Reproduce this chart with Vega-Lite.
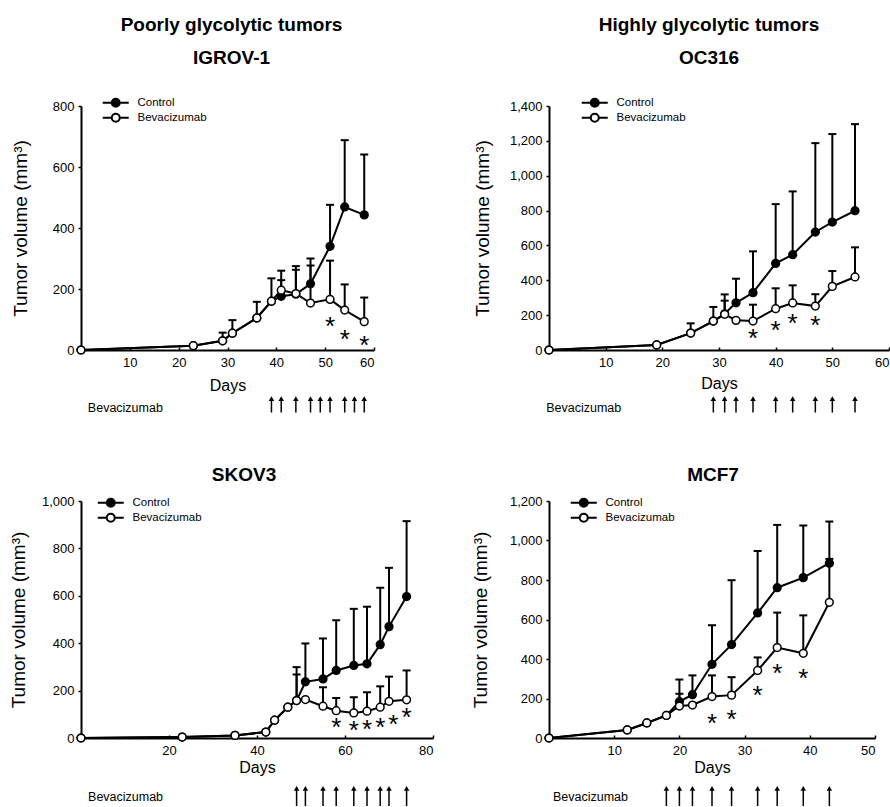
{
  "$schema": "https://vega.github.io/schema/vega-lite/v6.json",
  "padding": {"left": 9, "top": 16, "right": 0, "bottom": 0},
  "config": {
    "font": "Liberation Sans",
    "view": {"stroke": null},
    "axis": {"grid": false, "domainColor": "black", "domainWidth": 2, "tickColor": "black", "tickWidth": 1.5, "tickSize": 3, "labelColor": "black", "labelFontSize": 13, "labelFont": "Liberation Sans", "titleFont": "Liberation Sans", "titleColor": "black", "titleFontWeight": "normal", "titleFontSize": 16},
    "axisY": {"labelPadding": 4},
    "axisX": {"labelPadding": 9, "tickSize": -3},
    "title": {"font": "Liberation Sans", "fontSize": 19, "fontWeight": "bold", "color": "black", "subtitleFont": "Liberation Sans", "subtitleFontSize": 19, "subtitleFontWeight": "bold", "subtitleColor": "black", "anchor": "middle", "subtitlePadding": 14, "offset": 29},
    "legend": {"title": null, "labelFont": "Liberation Sans", "labelFontSize": 11.5, "labelColor": "black", "labelOffset": 16, "padding": 0, "rowPadding": -2, "symbolType": "M-3.25,0L-1,0M1,0L3.25,0M-1,0A1,1,0,1,0,1,0A1,1,0,1,0,-1,0", "symbolSize": 64, "symbolStrokeColor": "black", "symbolStrokeWidth": 2, "symbolOpacity": 1}
  },
  "datasets": {
    "tumor": [
      {"panel": "IGROV-1", "group": "Control", "day": 0, "volume": 0},
      {"panel": "IGROV-1", "group": "Control", "day": 23, "volume": 14},
      {"panel": "IGROV-1", "group": "Control", "day": 29, "volume": 30, "upper": 57},
      {"panel": "IGROV-1", "group": "Control", "day": 31, "volume": 55, "upper": 98},
      {"panel": "IGROV-1", "group": "Control", "day": 36, "volume": 105, "upper": 158},
      {"panel": "IGROV-1", "group": "Control", "day": 39, "volume": 160, "upper": 235},
      {"panel": "IGROV-1", "group": "Control", "day": 41, "volume": 176, "upper": 229},
      {"panel": "IGROV-1", "group": "Control", "day": 44, "volume": 183, "upper": 275},
      {"panel": "IGROV-1", "group": "Control", "day": 47, "volume": 217, "upper": 300},
      {"panel": "IGROV-1", "group": "Control", "day": 51, "volume": 340, "upper": 476},
      {"panel": "IGROV-1", "group": "Control", "day": 54, "volume": 469, "upper": 688},
      {"panel": "IGROV-1", "group": "Control", "day": 58, "volume": 443, "upper": 641},
      {"panel": "OC316", "group": "Control", "day": 0, "volume": 0},
      {"panel": "OC316", "group": "Control", "day": 19, "volume": 29},
      {"panel": "OC316", "group": "Control", "day": 25, "volume": 97, "upper": 153},
      {"panel": "OC316", "group": "Control", "day": 29, "volume": 166, "upper": 247},
      {"panel": "OC316", "group": "Control", "day": 31, "volume": 208, "upper": 319},
      {"panel": "OC316", "group": "Control", "day": 33, "volume": 271, "upper": 409},
      {"panel": "OC316", "group": "Control", "day": 36, "volume": 329, "upper": 566},
      {"panel": "OC316", "group": "Control", "day": 40, "volume": 497, "upper": 837},
      {"panel": "OC316", "group": "Control", "day": 43, "volume": 547, "upper": 910},
      {"panel": "OC316", "group": "Control", "day": 47, "volume": 677, "upper": 1187},
      {"panel": "OC316", "group": "Control", "day": 50, "volume": 734, "upper": 1239},
      {"panel": "OC316", "group": "Control", "day": 54, "volume": 799, "upper": 1296},
      {"panel": "SKOV3", "group": "Control", "day": 0, "volume": 0},
      {"panel": "SKOV3", "group": "Control", "day": 23, "volume": 4},
      {"panel": "SKOV3", "group": "Control", "day": 35, "volume": 11},
      {"panel": "SKOV3", "group": "Control", "day": 42, "volume": 25},
      {"panel": "SKOV3", "group": "Control", "day": 44, "volume": 75},
      {"panel": "SKOV3", "group": "Control", "day": 47, "volume": 130},
      {"panel": "SKOV3", "group": "Control", "day": 49, "volume": 158, "upper": 299},
      {"panel": "SKOV3", "group": "Control", "day": 51, "volume": 237, "upper": 399},
      {"panel": "SKOV3", "group": "Control", "day": 55, "volume": 249, "upper": 420},
      {"panel": "SKOV3", "group": "Control", "day": 58, "volume": 285, "upper": 497},
      {"panel": "SKOV3", "group": "Control", "day": 62, "volume": 306, "upper": 545},
      {"panel": "SKOV3", "group": "Control", "day": 65, "volume": 313, "upper": 554},
      {"panel": "SKOV3", "group": "Control", "day": 68, "volume": 394, "upper": 634},
      {"panel": "SKOV3", "group": "Control", "day": 70, "volume": 470, "upper": 718},
      {"panel": "SKOV3", "group": "Control", "day": 74, "volume": 597, "upper": 915},
      {"panel": "MCF7", "group": "Control", "day": 0, "volume": 0},
      {"panel": "MCF7", "group": "Control", "day": 12, "volume": 41},
      {"panel": "MCF7", "group": "Control", "day": 15, "volume": 76},
      {"panel": "MCF7", "group": "Control", "day": 18, "volume": 114},
      {"panel": "MCF7", "group": "Control", "day": 20, "volume": 184, "upper": 296},
      {"panel": "MCF7", "group": "Control", "day": 22, "volume": 219, "upper": 317},
      {"panel": "MCF7", "group": "Control", "day": 25, "volume": 373, "upper": 571},
      {"panel": "MCF7", "group": "Control", "day": 28, "volume": 473, "upper": 799},
      {"panel": "MCF7", "group": "Control", "day": 32, "volume": 633, "upper": 947},
      {"panel": "MCF7", "group": "Control", "day": 35, "volume": 761, "upper": 1079},
      {"panel": "MCF7", "group": "Control", "day": 39, "volume": 812, "upper": 1076},
      {"panel": "MCF7", "group": "Control", "day": 43, "volume": 885, "upper": 1096},
      {"panel": "IGROV-1", "group": "Bevacizumab", "day": 0, "volume": 0},
      {"panel": "IGROV-1", "group": "Bevacizumab", "day": 23, "volume": 14},
      {"panel": "IGROV-1", "group": "Bevacizumab", "day": 29, "volume": 30},
      {"panel": "IGROV-1", "group": "Bevacizumab", "day": 31, "volume": 55},
      {"panel": "IGROV-1", "group": "Bevacizumab", "day": 36, "volume": 105},
      {"panel": "IGROV-1", "group": "Bevacizumab", "day": 39, "volume": 160},
      {"panel": "IGROV-1", "group": "Bevacizumab", "day": 41, "volume": 196, "upper": 260},
      {"panel": "IGROV-1", "group": "Bevacizumab", "day": 44, "volume": 185, "upper": 263},
      {"panel": "IGROV-1", "group": "Bevacizumab", "day": 47, "volume": 154, "upper": 277},
      {"panel": "IGROV-1", "group": "Bevacizumab", "day": 51, "volume": 166, "upper": 293},
      {"panel": "IGROV-1", "group": "Bevacizumab", "day": 54, "volume": 131, "upper": 215},
      {"panel": "IGROV-1", "group": "Bevacizumab", "day": 58, "volume": 93, "upper": 172},
      {"panel": "OC316", "group": "Bevacizumab", "day": 0, "volume": 0},
      {"panel": "OC316", "group": "Bevacizumab", "day": 19, "volume": 29},
      {"panel": "OC316", "group": "Bevacizumab", "day": 25, "volume": 97},
      {"panel": "OC316", "group": "Bevacizumab", "day": 29, "volume": 166},
      {"panel": "OC316", "group": "Bevacizumab", "day": 31, "volume": 205, "upper": 283},
      {"panel": "OC316", "group": "Bevacizumab", "day": 33, "volume": 170},
      {"panel": "OC316", "group": "Bevacizumab", "day": 36, "volume": 166, "upper": 260},
      {"panel": "OC316", "group": "Bevacizumab", "day": 40, "volume": 237, "upper": 354},
      {"panel": "OC316", "group": "Bevacizumab", "day": 43, "volume": 270, "upper": 371},
      {"panel": "OC316", "group": "Bevacizumab", "day": 47, "volume": 252, "upper": 320},
      {"panel": "OC316", "group": "Bevacizumab", "day": 50, "volume": 365, "upper": 453},
      {"panel": "OC316", "group": "Bevacizumab", "day": 54, "volume": 419, "upper": 589},
      {"panel": "SKOV3", "group": "Bevacizumab", "day": 0, "volume": 0},
      {"panel": "SKOV3", "group": "Bevacizumab", "day": 23, "volume": 4},
      {"panel": "SKOV3", "group": "Bevacizumab", "day": 35, "volume": 11},
      {"panel": "SKOV3", "group": "Bevacizumab", "day": 42, "volume": 25},
      {"panel": "SKOV3", "group": "Bevacizumab", "day": 44, "volume": 75},
      {"panel": "SKOV3", "group": "Bevacizumab", "day": 47, "volume": 130},
      {"panel": "SKOV3", "group": "Bevacizumab", "day": 49, "volume": 158, "upper": 268},
      {"panel": "SKOV3", "group": "Bevacizumab", "day": 51, "volume": 162},
      {"panel": "SKOV3", "group": "Bevacizumab", "day": 55, "volume": 134, "upper": 214},
      {"panel": "SKOV3", "group": "Bevacizumab", "day": 58, "volume": 115, "upper": 169},
      {"panel": "SKOV3", "group": "Bevacizumab", "day": 62, "volume": 106, "upper": 172},
      {"panel": "SKOV3", "group": "Bevacizumab", "day": 65, "volume": 113, "upper": 193},
      {"panel": "SKOV3", "group": "Bevacizumab", "day": 68, "volume": 130, "upper": 218},
      {"panel": "SKOV3", "group": "Bevacizumab", "day": 70, "volume": 155, "upper": 259},
      {"panel": "SKOV3", "group": "Bevacizumab", "day": 74, "volume": 161, "upper": 285},
      {"panel": "MCF7", "group": "Bevacizumab", "day": 0, "volume": 0},
      {"panel": "MCF7", "group": "Bevacizumab", "day": 12, "volume": 41},
      {"panel": "MCF7", "group": "Bevacizumab", "day": 15, "volume": 76},
      {"panel": "MCF7", "group": "Bevacizumab", "day": 18, "volume": 114},
      {"panel": "MCF7", "group": "Bevacizumab", "day": 20, "volume": 162, "upper": 224},
      {"panel": "MCF7", "group": "Bevacizumab", "day": 22, "volume": 167},
      {"panel": "MCF7", "group": "Bevacizumab", "day": 25, "volume": 210, "upper": 317},
      {"panel": "MCF7", "group": "Bevacizumab", "day": 28, "volume": 217, "upper": 308},
      {"panel": "MCF7", "group": "Bevacizumab", "day": 32, "volume": 342, "upper": 408},
      {"panel": "MCF7", "group": "Bevacizumab", "day": 35, "volume": 458, "upper": 635},
      {"panel": "MCF7", "group": "Bevacizumab", "day": 39, "volume": 429, "upper": 621},
      {"panel": "MCF7", "group": "Bevacizumab", "day": 43, "volume": 687, "upper": 907}
    ],
    "stars": [
      {"panel": "IGROV-1", "day": 51, "volume": 91},
      {"panel": "IGROV-1", "day": 54, "volume": 50},
      {"panel": "IGROV-1", "day": 58, "volume": 31},
      {"panel": "OC316", "day": 36, "volume": 90},
      {"panel": "OC316", "day": 40, "volume": 138},
      {"panel": "OC316", "day": 43, "volume": 176},
      {"panel": "OC316", "day": 47, "volume": 166},
      {"panel": "SKOV3", "day": 58, "volume": 63},
      {"panel": "SKOV3", "day": 62, "volume": 49},
      {"panel": "SKOV3", "day": 65, "volume": 56},
      {"panel": "SKOV3", "day": 68, "volume": 63},
      {"panel": "SKOV3", "day": 71, "volume": 77},
      {"panel": "SKOV3", "day": 74, "volume": 106},
      {"panel": "MCF7", "day": 25, "volume": 98},
      {"panel": "MCF7", "day": 28, "volume": 115},
      {"panel": "MCF7", "day": 32, "volume": 236},
      {"panel": "MCF7", "day": 35, "volume": 348},
      {"panel": "MCF7", "day": 39, "volume": 322}
    ],
    "doses": [
      {"panel": "IGROV-1", "day": 39}, {"panel": "IGROV-1", "day": 41}, {"panel": "IGROV-1", "day": 44}, {"panel": "IGROV-1", "day": 47}, {"panel": "IGROV-1", "day": 49}, {"panel": "IGROV-1", "day": 51}, {"panel": "IGROV-1", "day": 54}, {"panel": "IGROV-1", "day": 56}, {"panel": "IGROV-1", "day": 58},
      {"panel": "OC316", "day": 29}, {"panel": "OC316", "day": 31}, {"panel": "OC316", "day": 33}, {"panel": "OC316", "day": 36}, {"panel": "OC316", "day": 40}, {"panel": "OC316", "day": 43}, {"panel": "OC316", "day": 47}, {"panel": "OC316", "day": 50}, {"panel": "OC316", "day": 54},
      {"panel": "SKOV3", "day": 49}, {"panel": "SKOV3", "day": 51}, {"panel": "SKOV3", "day": 55}, {"panel": "SKOV3", "day": 58}, {"panel": "SKOV3", "day": 62}, {"panel": "SKOV3", "day": 65}, {"panel": "SKOV3", "day": 68}, {"panel": "SKOV3", "day": 70}, {"panel": "SKOV3", "day": 74},
      {"panel": "MCF7", "day": 18}, {"panel": "MCF7", "day": 20}, {"panel": "MCF7", "day": 22}, {"panel": "MCF7", "day": 25}, {"panel": "MCF7", "day": 28}, {"panel": "MCF7", "day": 32}, {"panel": "MCF7", "day": 35}, {"panel": "MCF7", "day": 39}, {"panel": "MCF7", "day": 43}
    ]
  },
  "columns": 2,
  "spacing": {"row": 46, "column": 116},
  "bounds": "flush",
  "resolve": {"scale": {"fill": "independent"}, "legend": {"fill": "independent"}},
  "concat": [
    {
      "width": 293, "height": 244,
      "title": {"text": "Poorly glycolytic tumors", "subtitle": "IGROV-1", "dx": 4},
      "encoding": {
        "x": {"field": "day", "type": "quantitative", "scale": {"domain": [0, 60], "nice": false}, "axis": {"values": [10, 20, 30, 40, 50, 60], "title": "Days", "titlePadding": 8}},
        "y": {"field": "volume", "type": "quantitative", "scale": {"domain": [0, 800], "nice": false}, "axis": {"values": [0, 200, 400, 600, 800], "format": ",d", "title": "Tumor volume (mm³)", "titleFontSize": 19, "titlePadding": 22}}
      },
      "layer": [
        {"data": {"name": "tumor"}, "transform": [{"filter": "datum.panel == 'IGROV-1' && isValid(datum.upper)"}], "mark": {"type": "rule", "color": "black", "strokeWidth": 2}, "encoding": {"y2": {"field": "upper"}}},
        {"data": {"name": "tumor"}, "transform": [{"filter": "datum.panel == 'IGROV-1' && isValid(datum.upper)"}], "mark": {"type": "tick", "orient": "horizontal", "color": "black", "size": 8, "thickness": 2, "opacity": 1}, "encoding": {"y": {"field": "upper", "type": "quantitative", "title": "Tumor volume (mm³)"}}},
        {"data": {"name": "tumor"}, "transform": [{"filter": "datum.panel == 'IGROV-1'"}], "mark": {"type": "line", "color": "black", "strokeWidth": 2}, "encoding": {"detail": {"field": "group"}}},
        {"data": {"name": "tumor"}, "transform": [{"filter": "datum.panel == 'IGROV-1'"}], "mark": {"type": "point", "shape": "circle", "filled": true, "size": 60, "stroke": "black", "strokeWidth": 1.5, "opacity": 1}, "encoding": {"fill": {"field": "group", "type": "nominal", "scale": {"domain": ["Control", "Bevacizumab"], "range": ["black", "white"]}, "legend": {"orient": "none", "legendX": 29, "legendY": -9}}}},
        {"data": {"name": "stars"}, "transform": [{"filter": "datum.panel == 'IGROV-1'"}], "mark": {"type": "text", "text": "*", "fontSize": 26, "baseline": "middle", "dy": 5, "color": "black"}}
      ]
    },
    {
      "width": 340, "height": 244,
      "title": {"text": "Highly glycolytic tumors", "subtitle": "OC316", "dx": -10},
      "encoding": {
        "x": {"field": "day", "type": "quantitative", "scale": {"domain": [0, 60], "nice": false}, "axis": {"values": [10, 20, 30, 40, 50, 60], "labelFlush": true, "title": "Days", "titlePadding": 6}},
        "y": {"field": "volume", "type": "quantitative", "scale": {"domain": [0, 1400], "nice": false}, "axis": {"values": [0, 200, 400, 600, 800, 1000, 1200, 1400], "format": ",d", "title": "Tumor volume (mm³)", "titleFontSize": 19, "titlePadding": 17}}
      },
      "layer": [
        {"data": {"name": "tumor"}, "transform": [{"filter": "datum.panel == 'OC316' && isValid(datum.upper)"}], "mark": {"type": "rule", "color": "black", "strokeWidth": 2}, "encoding": {"y2": {"field": "upper"}}},
        {"data": {"name": "tumor"}, "transform": [{"filter": "datum.panel == 'OC316' && isValid(datum.upper)"}], "mark": {"type": "tick", "orient": "horizontal", "color": "black", "size": 8, "thickness": 2, "opacity": 1}, "encoding": {"y": {"field": "upper", "type": "quantitative", "title": "Tumor volume (mm³)"}}},
        {"data": {"name": "tumor"}, "transform": [{"filter": "datum.panel == 'OC316'"}], "mark": {"type": "line", "color": "black", "strokeWidth": 2}, "encoding": {"detail": {"field": "group"}}},
        {"data": {"name": "tumor"}, "transform": [{"filter": "datum.panel == 'OC316'"}], "mark": {"type": "point", "shape": "circle", "filled": true, "size": 60, "stroke": "black", "strokeWidth": 1.5, "opacity": 1}, "encoding": {"fill": {"field": "group", "type": "nominal", "scale": {"domain": ["Control", "Bevacizumab"], "range": ["black", "white"]}, "legend": {"orient": "none", "legendX": 40, "legendY": -9}}}},
        {"data": {"name": "stars"}, "transform": [{"filter": "datum.panel == 'OC316'"}], "mark": {"type": "text", "text": "*", "fontSize": 26, "baseline": "middle", "dy": 5, "color": "black"}}
      ]
    },
    {
      "width": 293, "height": 59,
      "layer": [
        {"data": {"name": "doses"}, "transform": [{"filter": "datum.panel == 'IGROV-1'"}], "mark": {"type": "rule", "color": "black", "strokeWidth": 1.5},
         "encoding": {"x": {"field": "day", "type": "quantitative", "scale": {"domain": [0, 60], "nice": false}, "axis": null}, "y": {"datum": 0.05, "type": "quantitative", "scale": {"domain": [0, 1], "reverse": true, "nice": false}, "axis": null}, "y2": {"datum": 0.28}}},
        {"data": {"name": "doses"}, "transform": [{"filter": "datum.panel == 'IGROV-1'"}], "mark": {"type": "point", "shape": "triangle-up", "filled": true, "color": "black", "size": 30, "opacity": 1},
         "encoding": {"x": {"field": "day", "type": "quantitative"}, "y": {"datum": 0.045, "type": "quantitative"}}},
        {"data": {"values": [{"label": "Bevacizumab"}]}, "mark": {"type": "text", "align": "left", "baseline": "middle", "fontSize": 12.5, "color": "black"},
         "encoding": {"x": {"datum": 1.4, "type": "quantitative"}, "y": {"datum": 0.2, "type": "quantitative"}, "text": {"field": "label", "type": "nominal"}}}
      ]
    },
    {
      "width": 340, "height": 59,
      "layer": [
        {"data": {"name": "doses"}, "transform": [{"filter": "datum.panel == 'OC316'"}], "mark": {"type": "rule", "color": "black", "strokeWidth": 1.5},
         "encoding": {"x": {"field": "day", "type": "quantitative", "scale": {"domain": [0, 60], "nice": false}, "axis": null}, "y": {"datum": 0.05, "type": "quantitative", "scale": {"domain": [0, 1], "reverse": true, "nice": false}, "axis": null}, "y2": {"datum": 0.28}}},
        {"data": {"name": "doses"}, "transform": [{"filter": "datum.panel == 'OC316'"}], "mark": {"type": "point", "shape": "triangle-up", "filled": true, "color": "black", "size": 30, "opacity": 1},
         "encoding": {"x": {"field": "day", "type": "quantitative"}, "y": {"datum": 0.045, "type": "quantitative"}}},
        {"data": {"values": [{"label": "Bevacizumab"}]}, "mark": {"type": "text", "align": "left", "baseline": "middle", "fontSize": 12.5, "color": "black"},
         "encoding": {"x": {"datum": -0.5, "type": "quantitative"}, "y": {"datum": 0.2, "type": "quantitative"}, "text": {"field": "label", "type": "nominal"}}}
      ]
    },
    {
      "width": 352, "height": 237,
      "title": {"text": "SKOV3", "dx": -13, "offset": 10},
      "encoding": {
        "x": {"field": "day", "type": "quantitative", "scale": {"domain": [0, 80], "nice": false}, "axis": {"values": [20, 40, 60, 80], "title": "Days", "titlePadding": 2}},
        "y": {"field": "volume", "type": "quantitative", "scale": {"domain": [0, 1000], "nice": false}, "axis": {"values": [0, 200, 400, 600, 800, 1000], "format": ",d", "title": "Tumor volume (mm³)", "titleFontSize": 19, "titlePadding": 12.5}}
      },
      "layer": [
        {"data": {"name": "tumor"}, "transform": [{"filter": "datum.panel == 'SKOV3' && isValid(datum.upper)"}], "mark": {"type": "rule", "color": "black", "strokeWidth": 2}, "encoding": {"y2": {"field": "upper"}}},
        {"data": {"name": "tumor"}, "transform": [{"filter": "datum.panel == 'SKOV3' && isValid(datum.upper)"}], "mark": {"type": "tick", "orient": "horizontal", "color": "black", "size": 8, "thickness": 2, "opacity": 1}, "encoding": {"y": {"field": "upper", "type": "quantitative", "title": "Tumor volume (mm³)"}}},
        {"data": {"name": "tumor"}, "transform": [{"filter": "datum.panel == 'SKOV3'"}], "mark": {"type": "line", "color": "black", "strokeWidth": 2}, "encoding": {"detail": {"field": "group"}}},
        {"data": {"name": "tumor"}, "transform": [{"filter": "datum.panel == 'SKOV3'"}], "mark": {"type": "point", "shape": "circle", "filled": true, "size": 60, "stroke": "black", "strokeWidth": 1.5, "opacity": 1}, "encoding": {"fill": {"field": "group", "type": "nominal", "scale": {"domain": ["Control", "Bevacizumab"], "range": ["black", "white"]}, "legend": {"orient": "none", "legendX": 24, "legendY": -4}}}},
        {"data": {"name": "stars"}, "transform": [{"filter": "datum.panel == 'SKOV3'"}], "mark": {"type": "text", "text": "*", "fontSize": 26, "baseline": "middle", "dy": 5, "color": "black"}}
      ]
    },
    {
      "width": 326, "height": 237,
      "title": {"text": "MCF7", "dx": 1, "offset": 10},
      "encoding": {
        "x": {"field": "day", "type": "quantitative", "scale": {"domain": [0, 50], "nice": false}, "axis": {"values": [10, 20, 30, 40, 50], "title": "Days", "titlePadding": 2}},
        "y": {"field": "volume", "type": "quantitative", "scale": {"domain": [0, 1200], "nice": false}, "axis": {"values": [0, 200, 400, 600, 800, 1000, 1200], "format": ",d", "title": "Tumor volume (mm³)", "titleFontSize": 19, "titlePadding": 19}}
      },
      "layer": [
        {"data": {"name": "tumor"}, "transform": [{"filter": "datum.panel == 'MCF7' && isValid(datum.upper)"}], "mark": {"type": "rule", "color": "black", "strokeWidth": 2}, "encoding": {"y2": {"field": "upper"}}},
        {"data": {"name": "tumor"}, "transform": [{"filter": "datum.panel == 'MCF7' && isValid(datum.upper)"}], "mark": {"type": "tick", "orient": "horizontal", "color": "black", "size": 8, "thickness": 2, "opacity": 1}, "encoding": {"y": {"field": "upper", "type": "quantitative", "title": "Tumor volume (mm³)"}}},
        {"data": {"name": "tumor"}, "transform": [{"filter": "datum.panel == 'MCF7'"}], "mark": {"type": "line", "color": "black", "strokeWidth": 2}, "encoding": {"detail": {"field": "group"}}},
        {"data": {"name": "tumor"}, "transform": [{"filter": "datum.panel == 'MCF7'"}], "mark": {"type": "point", "shape": "circle", "filled": true, "size": 60, "stroke": "black", "strokeWidth": 1.5, "opacity": 1}, "encoding": {"fill": {"field": "group", "type": "nominal", "scale": {"domain": ["Control", "Bevacizumab"], "range": ["black", "white"]}, "legend": {"orient": "none", "legendX": 29, "legendY": -4}}}},
        {"data": {"name": "stars"}, "transform": [{"filter": "datum.panel == 'MCF7'"}], "mark": {"type": "text", "text": "*", "fontSize": 26, "baseline": "middle", "dy": 5, "color": "black"}}
      ]
    },
    {
      "width": 352, "height": 22,
      "layer": [
        {"data": {"name": "doses"}, "transform": [{"filter": "datum.panel == 'SKOV3'"}], "mark": {"type": "rule", "color": "black", "strokeWidth": 1.5},
         "encoding": {"x": {"field": "day", "type": "quantitative", "scale": {"domain": [0, 80], "nice": false}, "axis": null}, "y": {"datum": 0.2, "type": "quantitative", "scale": {"domain": [0, 1], "reverse": true, "nice": false}, "axis": null}, "y2": {"datum": 1}}},
        {"data": {"name": "doses"}, "transform": [{"filter": "datum.panel == 'SKOV3'"}], "mark": {"type": "point", "shape": "triangle-up", "filled": true, "color": "black", "size": 30, "opacity": 1},
         "encoding": {"x": {"field": "day", "type": "quantitative"}, "y": {"datum": 0.2, "type": "quantitative"}}},
        {"data": {"values": [{"label": "Bevacizumab"}]}, "mark": {"type": "text", "align": "left", "baseline": "middle", "fontSize": 12.5, "color": "black"},
         "encoding": {"x": {"datum": 1.6, "type": "quantitative"}, "y": {"datum": 0.57, "type": "quantitative"}, "text": {"field": "label", "type": "nominal"}}}
      ]
    },
    {
      "width": 326, "height": 22,
      "layer": [
        {"data": {"name": "doses"}, "transform": [{"filter": "datum.panel == 'MCF7'"}], "mark": {"type": "rule", "color": "black", "strokeWidth": 1.5},
         "encoding": {"x": {"field": "day", "type": "quantitative", "scale": {"domain": [0, 50], "nice": false}, "axis": null}, "y": {"datum": 0.2, "type": "quantitative", "scale": {"domain": [0, 1], "reverse": true, "nice": false}, "axis": null}, "y2": {"datum": 1}}},
        {"data": {"name": "doses"}, "transform": [{"filter": "datum.panel == 'MCF7'"}], "mark": {"type": "point", "shape": "triangle-up", "filled": true, "color": "black", "size": 30, "opacity": 1},
         "encoding": {"x": {"field": "day", "type": "quantitative"}, "y": {"datum": 0.2, "type": "quantitative"}}},
        {"data": {"values": [{"label": "Bevacizumab"}]}, "mark": {"type": "text", "align": "left", "baseline": "middle", "fontSize": 12.5, "color": "black"},
         "encoding": {"x": {"datum": 0.6, "type": "quantitative"}, "y": {"datum": 0.57, "type": "quantitative"}, "text": {"field": "label", "type": "nominal"}}}
      ]
    }
  ]
}
